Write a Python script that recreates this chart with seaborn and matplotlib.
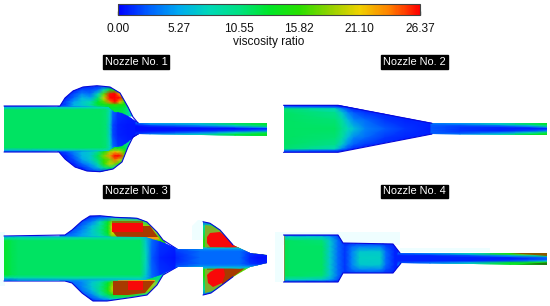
import numpy as np
import seaborn as sns
from matplotlib import pyplot as plt
from matplotlib.colors import LinearSegmentedColormap
from matplotlib.patches import Polygon

# colour scale
vmax = 26.37
tick_values = [0.00, 5.27, 10.55, 15.82, 21.10, 26.37]
tick_labels = ['0.00', '5.27', '10.55', '15.82', '21.10', '26.37']
scale_colors = ['#0000ff', '#0060ff', '#00aaf0', '#00d8b8', '#00e182', '#00e628',
                '#28e000', '#90d200', '#f0d200', '#ff8000', '#ff0000']
titles = ['Nozzle No. 1', 'Nozzle No. 2', 'Nozzle No. 3', 'Nozzle No. 4']

# Nozzle 1
n1_out_x = [4, 60, 65, 73, 83, 97, 110, 120, 128, 133, 138, 267, 267, 138, 133, 128, 122, 113, 100, 87, 75, 65, 59, 4]
n1_out_y = [106, 106, 98, 91, 87, 85.7, 87, 93, 107, 117, 123, 122.5, 135.5, 134, 137, 147, 162, 169, 171.7, 171, 167, 159, 152, 152]
n1_ch_x = [58, 66, 74, 82, 90, 98, 104, 110, 115, 120, 125, 130, 136]
n1_up_y = [85, 90, 94, 98, 102, 105, 108, 116]
n1_up_v = [[1, 1, 1, 1, 1, 1, 1, 1, 1, 1, 1, 1, 1],
           [1, 1, 1, 2, 2, 3, 8, 13, 15, 9, 2, 1, 1],
           [1, 1, 2, 4, 3, 8, 17, 26, 28, 22, 9, 2, 1],
           [1, 1, 3, 6, 5, 11, 20, 29, 31, 26, 16, 3, 1],
           [1, 2, 5, 7, 8, 13, 17, 24, 27, 22, 15, 6, 1],
           [1, 2, 6, 7, 9, 13, 14, 15, 16, 15, 14, 9, 2],
           [3, 3, 5, 6, 7, 9, 11, 13, 13, 13, 12, 8, 3],
           [3, 3, 5, 6, 7, 9, 11, 12, 12, 12, 11, 8, 3]]
n1_lo_y = [141, 148, 152, 156, 160, 164, 168, 173]
n1_lo_v = [[3, 3, 5, 6, 7, 9, 11, 12, 12, 12, 11, 8, 3],
           [3, 3, 5, 6, 7, 9, 11, 13, 13, 13, 12, 8, 3],
           [1, 2, 4, 6, 7, 10, 15, 19, 22, 20, 16, 7, 2],
           [1, 1, 3, 6, 7, 12, 18, 23, 28, 26, 18, 4, 1],
           [1, 1, 2, 5, 7, 11, 16, 18, 24, 20, 11, 2, 1],
           [1, 1, 1, 3, 5, 9, 16, 20, 18, 13, 3, 1, 1],
           [1, 1, 1, 1, 3, 6, 10, 12, 9, 3, 1, 1, 1],
           [1, 1, 1, 1, 1, 1, 1, 1, 1, 1, 1, 1, 1]]
n1_jet_px = [4, 108, 114, 122, 128, 134, 139, 139, 134, 128, 122, 114, 108, 4]
n1_jet_py = [106, 107, 112, 113, 116, 120, 123, 134, 137, 142, 146, 147, 151, 152]
n1_jet_x = [4, 60, 100, 106, 110, 113, 118, 128, 134, 139]
n1_jet_y = [106, 107.5, 110, 112, 125, 129, 135, 146, 148, 150.5, 152]
n1_jet_v = [[2, 2, 4, 6, 6, 5, 4, 3, 2, 2],
            [6, 7, 8, 8, 7, 5, 3, 2, 1, 1],
            [11.5, 11.5, 11.5, 11, 8, 4, 2, 1, 1, 1],
            [11.5, 11.5, 11.5, 11, 8, 3, 1.5, 1, 1, 1],
            [11.5, 11.5, 11.5, 11, 7, 2, 1, 0.7, 0.7, 0.7],
            [11.5, 11.5, 11.5, 11, 7, 2, 1, 0.7, 0.7, 0.7],
            [11.5, 11.5, 11.5, 11, 7, 2, 1, 0.7, 0.7, 0.7],
            [11.5, 11.5, 11.5, 11, 8, 3, 1.5, 1, 1, 1],
            [11.5, 11.5, 11.5, 11, 8, 4, 2, 1, 1, 1],
            [6, 7, 8, 8, 7, 5, 3, 2, 1, 1],
            [2, 2, 4, 6, 6, 5, 4, 3, 2, 2]]
n1_tail_x = [136, 150, 200, 235, 267]
n1_tail_y = [122.5, 124, 126, 128, 129, 131, 133, 135, 136]
n1_tail_v = [[4, 4, 5, 8, 12],
             [2, 5, 7, 12, 13],
             [0.5, 1.5, 4, 7, 12],
             [0.5, 0.5, 1, 2, 5],
             [0.5, 0.5, 0.5, 0.5, 1],
             [0.5, 0.5, 1, 2, 4],
             [1, 1.5, 4, 8, 12],
             [2, 5, 8, 13, 14],
             [4, 5, 7, 11, 13]]

# Nozzle 2
n2_out_x = [283.5, 338, 432, 547, 547, 432, 338, 283.5]
n2_out_y = [105.3, 105.3, 123.3, 122.7, 135.3, 134, 152.3, 152.3]
n2_x = [283, 335, 342, 348, 354, 365, 385, 405, 425, 432]
n2_y = [105, 107, 109, 113, 120, 129, 138, 145, 149, 151, 153]
n2_v = [[1, 1, 1, 1, 1, 1, 1, 1, 1, 1],
        [3, 2, 1, 1, 1, 1, 1, 1, 1, 1],
        [11, 8, 4, 2, 1, 1, 1, 1, 1, 1],
        [11.5, 10, 7, 4, 2.5, 1.5, 1, 1, 1, 1],
        [11.5, 11, 9, 6, 4, 3, 1.5, 1, 1, 1],
        [11.5, 11.5, 10, 8, 6.5, 4, 2.5, 1.5, 1, 0.7],
        [11.5, 11, 9, 6, 4, 3, 1.5, 1, 1, 1],
        [11.5, 10, 7, 4, 2.5, 1.5, 1, 1, 1, 1],
        [11, 8, 4, 2, 1, 1, 1, 1, 1, 1],
        [3, 2, 1, 1, 1, 1, 1, 1, 1, 1],
        [1, 1, 1, 1, 1, 1, 1, 1, 1, 1]]
n2_tail_x = [431, 460, 500, 530, 547]
n2_tail_y = [123, 124.5, 126, 128, 129, 131, 133, 134.5, 135.5]
n2_tail_v = [[4, 5, 7, 11, 13],
             [3, 4, 8, 12, 13],
             [2.5, 2, 3, 6, 11],
             [2.5, 1.5, 1, 1.5, 4],
             [2.5, 1.5, 1, 1, 1],
             [2.5, 1.5, 1, 2, 4],
             [2.5, 2, 4, 8, 12],
             [3, 4, 8, 13, 14],
             [4, 5, 8, 12, 14]]

# Nozzle 3
n3_a_x = [4, 65, 72, 82, 90, 100, 115, 137, 147, 157, 163, 177, 203, 203, 177, 163, 157, 147, 133, 107, 93, 82, 72, 65, 4]
n3_a_y = [236, 235, 230, 221, 216, 215.7, 217.3, 218.3, 222, 232, 240, 249, 249, 267, 267, 275, 285, 295, 297.3, 301, 301, 293, 283, 281, 281]
n3_b_x = [203, 210, 220, 233, 250, 267, 267, 250, 233, 222, 211, 203]
n3_b_y = [221.7, 223.3, 230, 245, 253, 255, 263.3, 266.7, 276.7, 285, 293, 295]
n3_ch_x = [60, 72, 82, 92, 100, 108, 112, 130, 150, 165]
n3_up_y = [215, 218, 222, 226, 230, 234, 238, 248]
n3_up_v = [[1, 1, 1, 1, 1, 1, 1, 1, 1, 1],
           [1, 1, 1, 2, 3, 4, 6, 6, 5, 1],
           [1, 1, 2, 4, 8, 13, 18, 18, 10, 2],
           [1, 1, 3, 6, 9, 14, 20, 20, 18, 4],
           [1, 2, 4, 7, 10, 14, 20, 20, 20, 8],
           [2, 3, 5, 7, 9, 13, 20, 20, 20, 12],
           [4, 4, 5, 7, 8, 10, 16, 18, 18, 16],
           [4, 4, 5, 7, 8, 10, 14, 16, 16, 14]]
n3_lo_y = [268, 279, 283, 287, 291, 295, 299, 303]
n3_lo_v = [[4, 4, 5, 6, 7, 8, 10, 11, 12, 10],
           [4, 4, 5, 6, 7, 8, 10, 11, 12, 8],
           [2, 3, 4, 7, 9, 13, 17, 20, 20, 10],
           [1, 2, 4, 7, 10, 14, 19, 20, 19, 6],
           [1, 1, 3, 6, 10, 15, 19, 20, 18, 3],
           [1, 1, 2, 4, 8, 12, 14, 16, 8, 1],
           [1, 1, 1, 2, 4, 6, 8, 8, 3, 1],
           [1, 1, 1, 1, 1, 1, 1, 1, 1, 1]]
n3_jet_px = [4, 145, 165, 178, 178, 163, 145, 4]
n3_jet_py = [236, 237, 243, 249, 267, 274, 280, 281]
n3_jet_x = [4, 12, 18, 140, 146, 152, 160, 178]
n3_jet_y = [236, 238, 241, 258, 275, 278, 281]
n3_jet_v = [[2, 2, 3, 6, 6, 4, 3, 1],
            [8, 9, 9, 9, 6, 3, 2, 1],
            [13, 12, 11.5, 11.5, 7, 3, 1.5, 1],
            [13, 12, 11.5, 11.5, 8, 2.5, 1, 0.5],
            [13, 12, 11.5, 11.5, 7, 3, 1.5, 1],
            [8, 9, 9, 9, 6, 3, 2, 1],
            [2, 2, 3, 6, 6, 4, 3, 1]]
n3_tail_x = [176, 200, 240, 250, 258, 267]
n3_tail_y = [248, 250, 252, 258, 264, 266, 268]
n3_tail_v = [[3, 7, 7, 8, 8, 7],
             [2, 4, 4, 3, 3, 4],
             [1.5, 3, 3, 1.5, 1, 1],
             [1, 3, 3, 1, 0.5, 0.5],
             [1.5, 3, 3, 1.5, 1, 1],
             [2, 4, 4, 3, 3, 4],
             [3, 7, 7, 8, 8, 7]]
n3_c_x = [203, 215, 230, 245, 267]
n3_c_y = [221, 226, 240, 258, 276, 290, 296]
n3_c_v = [[2, 2, 2, 2, 2],
          [8, 12, 14, 15, 15],
          [15, 16, 17, 17, 17],
          [15, 16, 17, 17, 15],
          [15, 16, 17, 17, 17],
          [8, 12, 14, 15, 15],
          [2, 2, 2, 2, 2]]
# saturated zones beyond the end of the scale
lime_x = [[205, 212, 223, 234, 205], [205, 234, 223, 212, 205]]
lime_y = [[225, 226, 233, 248, 248], [268, 268, 284, 291, 293]]
orange_x = [[117, 158, 160, 118], [113, 122, 122, 113], [118, 155, 155, 118]]
orange_y = [[237, 237, 239.5, 239.5], [281, 281, 293, 293], [279.5, 279.5, 281.5, 281.5]]
brown_x = [[113, 143, 143, 150, 158, 117], [113, 155, 145, 128, 113], [222, 233, 250, 267, 267, 240, 225], [222, 245, 267, 267, 245, 233, 222]]
brown_y = [[232, 232, 226, 226, 237, 237], [281, 281, 293, 295, 295], [234, 245, 253, 255, 256.5, 249, 249], [267, 266, 263, 262, 268, 277, 286]]
red_x = [[112, 143, 143, 112], [128, 143, 143, 128],
         [207, 210, 220, 225, 232, 243, 210, 207],
         [207, 210, 223, 225, 222, 213, 208]]
red_y = [[223, 223, 232, 232], [281, 281, 290, 290],
         [237, 233, 232, 236, 243, 248, 247, 243],
         [275, 272, 265, 275, 283, 287, 283]]
olive_x = [[112, 143, 143, 112], [207, 233, 243, 207], [207, 233, 233, 207]]
olive_y = [[221, 221, 223.5, 223.5], [247, 247, 249, 249], [268, 268, 270, 270]]

# Nozzle 4
n4_out_x = [283.5, 338, 343, 393, 400, 547, 547, 401, 393, 343, 338, 283.5]
n4_out_y = [235, 235, 243, 244, 253, 253, 265, 263, 273, 273, 282, 282]
n4_x = [283, 286, 290, 322, 330, 338, 345, 352, 360, 380, 386, 395, 402]
n4_y = [235, 237, 241, 247, 252, 258, 265, 270, 276, 280, 282]
n4_v = [[1, 1, 1, 1, 1, 1, 1, 1, 1, 1, 1, 1, 1],
        [6, 7, 8, 7, 5, 2, 1, 1, 1, 1, 1, 1, 1],
        [10, 12, 11.5, 11, 7, 3, 1, 1, 1, 1, 1, 1, 1],
        [12, 12, 11.5, 11.5, 7, 3, 1.5, 3, 4, 4, 2, 1, 1],
        [12, 12, 11.5, 11.5, 7, 3, 1.5, 4, 7, 7, 3, 1, 1],
        [12, 12, 11.5, 11.5, 7, 3, 1.5, 4, 7.5, 7.5, 3, 1, 1],
        [12, 12, 11.5, 11.5, 7, 3, 1.5, 4, 7, 7, 3, 1, 1],
        [12, 12, 11.5, 11.5, 7, 3, 1.5, 3, 4, 4, 2, 1, 1],
        [10, 12, 11.5, 11, 7, 3, 1, 1, 1, 1, 1, 1, 1],
        [6, 7, 8, 7, 5, 2, 1, 1, 1, 1, 1, 1, 1],
        [1, 1, 1, 1, 1, 1, 1, 1, 1, 1, 1, 1, 1]]
n4_tail_x = [398, 430, 470, 510, 547]
n4_tail_y = [253, 254.5, 256, 258, 259.5, 261, 263, 264.5, 266]
n4_tail_v = [[3, 5, 8, 14, 20],
             [2, 3, 7, 16, 23],
             [1, 1, 2, 5, 11],
             [1, 1, 1, 1, 3],
             [1, 1, 1, 1, 2],
             [1, 1, 1, 2, 6],
             [2, 3, 6, 13, 15],
             [3, 5, 10, 14, 14],
             [4, 5, 8, 12, 13]]

# pale halos round the lower nozzles
halo_x = [[275, 283, 283, 275], [283, 400, 400, 283], [400, 490, 490, 400], [0, 5, 5, 0], [204, 198, 192, 192, 204]]
halo_y = [[232, 232, 282, 282], [232, 232, 245, 245], [248, 248, 252, 252], [232, 232, 286, 286], [220, 220, 226, 240, 240]]

sns.set_theme(style='white')
plt.rcParams['font.family'] = ['Liberation Sans', 'DejaVu Sans']

cmap = LinearSegmentedColormap.from_list('viscosity', scale_colors)
fig = plt.figure(figsize=(5.5, 3.06), dpi=100)
ax = fig.add_axes([0, 0, 1, 1])
ax.set_axis_off()


def paint(x, y, v, clip_x, clip_y, z=2):
    mesh = ax.pcolormesh(x, y, np.array(v, dtype=float), shading='gouraud', cmap=cmap,
                         vmin=0, vmax=vmax, zorder=z)
    clip = Polygon(np.column_stack([clip_x, clip_y]), closed=True, transform=ax.transData)
    mesh.set_clip_path(clip)
    return mesh


def patches(xs, ys, color, clip_x, clip_y):
    clip = Polygon(np.column_stack([clip_x, clip_y]), closed=True, transform=ax.transData)
    for px, py in zip(xs, ys):
        for p in ax.fill(px, py, color=color, lw=0, zorder=4):
            p.set_clip_path(clip)


def wall(x, y, color='#0808d8', width=0.8):
    sns.lineplot(x=x, y=y, sort=False, estimator=None, color=color, linewidth=width, ax=ax, zorder=5)


for hx, hy in zip(halo_x, halo_y):
    ax.fill(hx, hy, color='#effeff', lw=0, zorder=1)

# nozzle 1
first = paint(n1_ch_x, n1_up_y, n1_up_v, n1_out_x, n1_out_y)
paint(n1_ch_x, n1_lo_y, n1_lo_v, n1_out_x, n1_out_y)
paint(n1_jet_x, n1_jet_y, n1_jet_v, n1_jet_px, n1_jet_py, z=3)
paint(n1_tail_x, n1_tail_y, n1_tail_v, n1_out_x, n1_out_y, z=3)
wall(n1_out_x[:11], n1_out_y[:11])
wall(n1_out_x[13:], n1_out_y[13:])

# nozzle 2
paint(n2_x, n2_y, n2_v, n2_out_x, n2_out_y)
paint(n2_tail_x, n2_tail_y, n2_tail_v, n2_out_x, n2_out_y, z=3)
wall(n2_out_x[:3], n2_out_y[:3])
wall(n2_out_x[5:], n2_out_y[5:])

# nozzle 3
paint(n3_ch_x, n3_up_y, n3_up_v, n3_a_x, n3_a_y)
paint(n3_ch_x, n3_lo_y, n3_lo_v, n3_a_x, n3_a_y)
paint(n3_c_x, n3_c_y, n3_c_v, n3_b_x, n3_b_y)
whole_x = n3_a_x[:13] + n3_b_x + n3_a_x[13:]
whole_y = n3_a_y[:13] + n3_b_y + n3_a_y[13:]
patches(lime_x, lime_y, '#7fae2a', whole_x, whole_y)
patches(olive_x, olive_y, '#7d7a08', whole_x, whole_y)
patches(orange_x, orange_y, '#f49a10', whole_x, whole_y)
patches(brown_x, brown_y, '#a83a00', whole_x, whole_y)
patches(red_x, red_y, '#f80808', whole_x, whole_y)
paint(n3_jet_x, n3_jet_y, n3_jet_v, n3_jet_px, n3_jet_py, z=6)
paint(n3_tail_x, n3_tail_y, n3_tail_v, whole_x, whole_y, z=6)
wall(n3_a_x[:12], n3_a_y[:12])
wall(n3_a_x[14:], n3_a_y[14:])
wall(n3_b_x[:4], n3_b_y[:4])
wall(n3_b_x[8:], n3_b_y[8:])

# nozzle 4
paint(n4_x, n4_y, n4_v, n4_out_x, n4_out_y)
paint(n4_tail_x, n4_tail_y, n4_tail_v, n4_out_x, n4_out_y, z=3)
patches([[510, 547, 547]], [[253, 253, 255.5]], '#8a5a00', n4_out_x, n4_out_y)
patches([[515, 547, 547]], [[264.5, 262.5, 265]], '#1f7a10', n4_out_x, n4_out_y)
patches([[283.5, 285, 285, 283.5]], [[236, 236, 281, 281]], '#6f9a50', n4_out_x, n4_out_y)
wall(n4_out_x[:5], n4_out_y[:5])
wall(n4_out_x[7:], n4_out_y[7:])

for name, cx, cy in zip(titles, [136, 414.5, 136, 414.5], [62, 62, 191.5, 191.5]):
    ax.text(cx, cy, name, color='white', fontsize=7.9, ha='center', va='center', zorder=8,
            bbox=dict(facecolor='black', edgecolor='black', boxstyle='square,pad=0.17'))

ax.set_xlim(0, 550)
ax.set_ylim(306, 0)

# colour bar along the top
cax = fig.add_axes([118.3 / 550, 1 - 14.5 / 306, 301.7 / 550, 10.5 / 306])
cbar = fig.colorbar(first, cax=cax, orientation='horizontal', ticks=tick_values)
cbar.ax.set_xticklabels(tick_labels)
cbar.ax.tick_params(direction='in', length=3, width=0.9, color='black', labelsize=8.6, pad=6,
                    labelcolor='#111111', bottom=True)
cbar.outline.set_edgecolor('#444444')
cbar.outline.set_linewidth(0.8)
cbar.set_label('viscosity ratio', fontsize=8.6, color='#111111', labelpad=1)

fig.savefig('out.png', dpi=100)
